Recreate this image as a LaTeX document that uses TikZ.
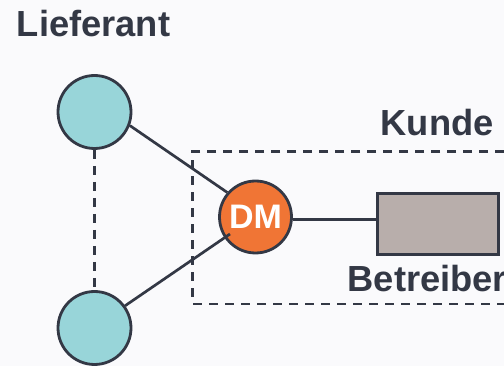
\documentclass[tikz,border=0pt]{standalone}
\usepackage{fontspec}
\setmainfont{Liberation Sans}
\usetikzlibrary{calc}
\definecolor{ink}{HTML}{333845}
\definecolor{bg}{HTML}{FAFAFC}
\definecolor{teal}{HTML}{98D5D9}
\definecolor{orng}{HTML}{F07535}
\definecolor{greyb}{HTML}{B8AEAB}
\tikzset{
  lbl/.style={font=\fontsize{36.3}{40}\selectfont\bfseries, text=ink, inner sep=0pt, anchor=base west},
  party/.style={circle, draw=ink, line width=2.8pt, fill=teal, minimum size=73pt, inner sep=0pt},
  dmnode/.style={circle, draw=ink, line width=2.8pt, fill=orng, minimum size=72pt, inner sep=0pt,
     text=white, font=\fontsize{34}{36}\selectfont\bfseries},
  opbox/.style={rectangle, draw=ink, line width=2.8pt, fill=greyb, inner sep=0pt},
  conn/.style={draw=ink, line width=2.7pt},
  dconn/.style={draw=ink, line width=2.9pt, dash pattern=on 9pt off 7pt},
}
\begin{document}
\begin{tikzpicture}[x=1pt,y=-1pt]
\fill[bg] (0,0) rectangle (504,366);
\useasboundingbox (0,0) rectangle (504,366);
% dashed customer box
\draw[dconn] (520,151.7) -- (192.7,151.7) -- (192.7,304) -- (520,304);
\node[party] (L1) at (94.5,112) {};
\node[party] (L2) at (94.5,328) {};
\node[dmnode] (DM) at (255.5,217) {DM};
\node[opbox, minimum width=121pt, minimum height=61pt] (B) at (437.6,224.2) {};
\coordinate (DMin) at (230,234);
\draw[dconn] (L1.south) -- (L2.north);
\draw[conn] (L1.-21.5) -- (DM.139);
\draw[conn] (L2.36) -- (DMin);
\draw[conn] (DM.-4.5) -- (DM.-4.5 -| B.west);
\node[lbl] (tL) at (16.7,36.7) {Lieferant};
\node[lbl] (tK) at (380.5,135.7) {Kunde};
\node[lbl] (tB) at (347.5,291.7) {Betreiber};
\end{tikzpicture}
\end{document}
